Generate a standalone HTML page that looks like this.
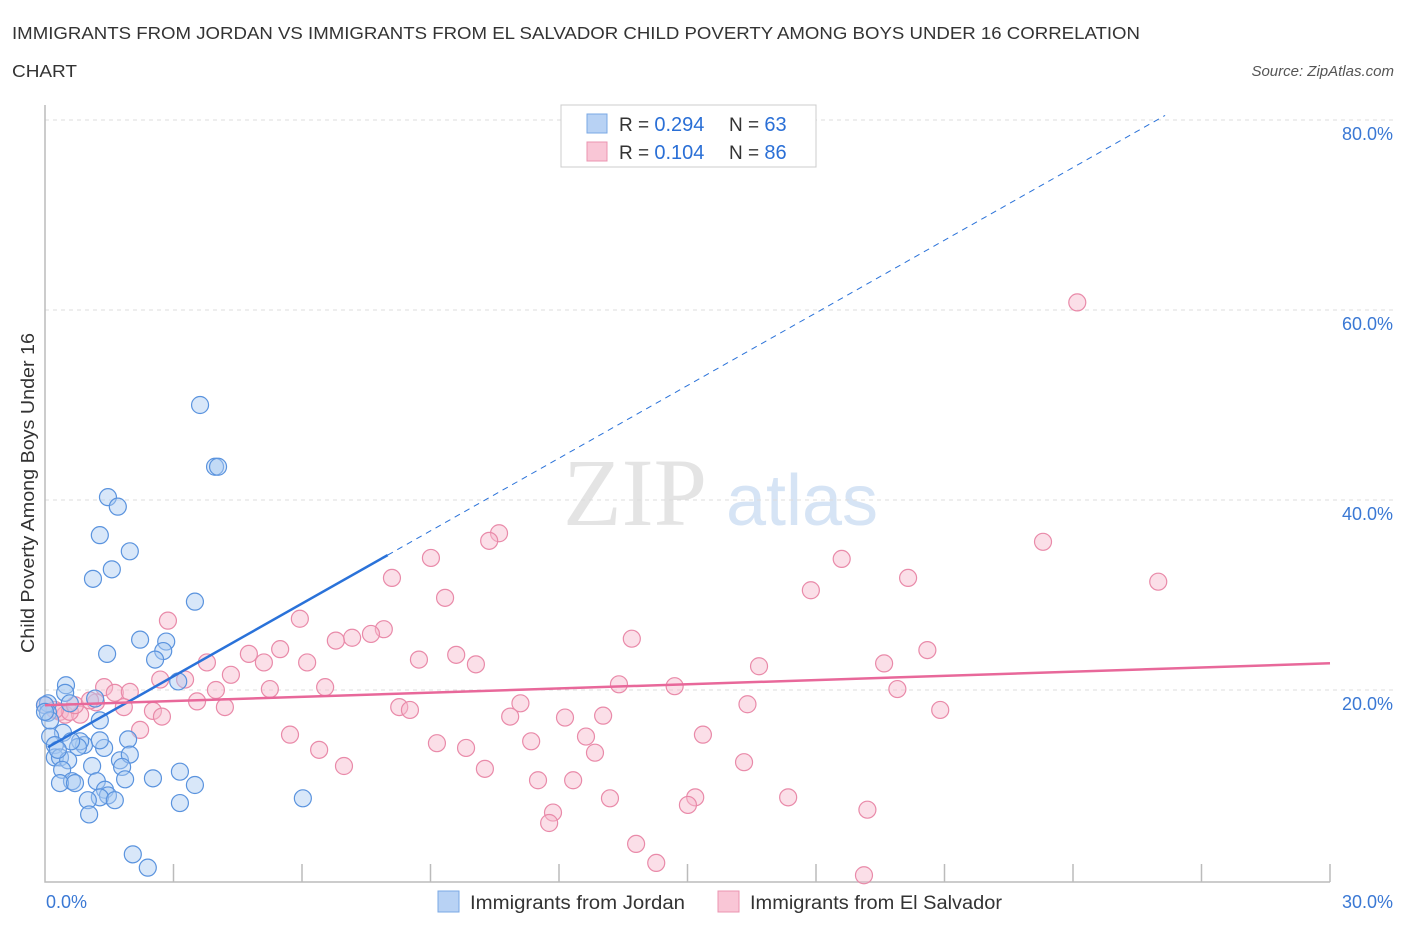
<!DOCTYPE html>
<html><head><meta charset="utf-8">
<style>
body{margin:0;background:#fff;font-family:"Liberation Sans",sans-serif;}
</style></head>
<body>
<svg id="chart" width="1406" height="930" xmlns="http://www.w3.org/2000/svg">
<text x="12" y="39" font-size="17.5" fill="#333" textLength="1128" lengthAdjust="spacingAndGlyphs">IMMIGRANTS FROM JORDAN VS IMMIGRANTS FROM EL SALVADOR CHILD POVERTY AMONG BOYS UNDER 16 CORRELATION</text>
<text x="12" y="77" font-size="17.5" fill="#333" textLength="65" lengthAdjust="spacingAndGlyphs">CHART</text>
<text x="1394" y="76" font-size="15" font-style="italic" fill="#555" text-anchor="end">Source: ZipAtlas.com</text>
<text x="34" y="493" font-size="18" fill="#333" text-anchor="middle" textLength="320" lengthAdjust="spacingAndGlyphs" transform="rotate(-90 34 493)">Child Poverty Among Boys Under 16</text>
<text x="635" y="525" font-size="96" fill="#e4e4e4" font-family="Liberation Serif,serif" text-anchor="middle">ZIP</text>
<text x="802" y="525" font-size="72" fill="#d6e4f5" text-anchor="middle">atlas</text>
<g id="grid"></g>
<g id="axes"></g>
<g id="pts"></g>
<g id="lines"></g>
<g>
<rect x="561" y="105" width="255" height="62" fill="#fff" stroke="#ccc"/>
<rect x="587" y="114" width="20" height="19" fill="#b8d2f4" stroke="#7aa8e4"/>
<text x="619" y="131" font-size="19" fill="#333">R = <tspan fill="#2a6fd6" font-size="20">0.294</tspan></text>
<text x="729" y="131" font-size="19" fill="#333">N = <tspan fill="#2a6fd6" font-size="20">63</tspan></text>
<rect x="587" y="142" width="20" height="19" fill="#f9c6d6" stroke="#eb94b0"/>
<text x="619" y="159" font-size="19" fill="#333">R = <tspan fill="#2a6fd6" font-size="20">0.104</tspan></text>
<text x="729" y="159" font-size="19" fill="#333">N = <tspan fill="#2a6fd6" font-size="20">86</tspan></text>
</g>
<g>
<rect x="438" y="891" width="21" height="21" fill="#b8d2f4" stroke="#7aa8e4"/>
<text x="470" y="909" font-size="19" fill="#333" textLength="215" lengthAdjust="spacingAndGlyphs">Immigrants from Jordan</text>
<rect x="718" y="891" width="21" height="21" fill="#f9c6d6" stroke="#eb94b0"/>
<text x="750" y="909" font-size="19" fill="#333" textLength="252" lengthAdjust="spacingAndGlyphs">Immigrants from El Salvador</text>
</g>
</svg>
<script>
const yTicks=[20,40,60,80];
const xTickLabels=["0.0%","30.0%"];
const jordanX=[3.62,3.97,4.04,1.47,1.70,1.28,1.98,1.56,1.12,3.50,2.22,2.83,2.76,2.57,1.45,3.11,0.49,0.47,1.17,0.07,0,0.58,0.07,1.28,0.42,0.12,1.94,1.38,0.91,0.82,0.77,0.61,0.23,0.23,0.35,0.54,0.40,1.75,1.98,1.80,1.10,3.15,2.52,1.87,1.21,0.63,0.35,0.70,1.40,1.47,1.28,1.00,1.63,3.50,3.15,6.02,1.03,2.05,2.40,0.12,0.30,1.28,0];
const jordanY=[50.0,43.5,43.5,40.3,39.3,36.3,34.6,32.7,31.7,29.3,25.3,25.1,24.1,23.2,23.8,20.9,20.5,19.7,19.1,18.6,18.4,18.6,17.6,16.8,15.5,15.1,14.8,13.9,14.2,14.6,14.0,14.6,14.2,12.9,12.9,12.6,11.6,12.6,13.2,11.9,12.0,11.4,10.7,10.6,10.4,10.4,10.2,10.2,9.5,8.9,8.7,8.4,8.4,10.0,8.1,8.6,6.9,2.7,1.3,16.8,13.7,14.7,17.7];
const salvX=[24.1,10.6,10.37,23.3,9.01,18.6,8.10,20.15,25.99,9.34,17.88,2.87,5.95,7.91,7.61,7.17,6.79,13.7,4.76,5.49,9.60,20.6,3.78,5.11,6.12,8.73,10.06,16.67,19.59,4.34,3.27,2.69,1.38,6.54,3.99,13.4,14.7,19.9,5.25,1.63,1.98,3.55,4.20,1.19,11.1,16.4,8.27,8.52,20.9,1.84,2.52,0.35,0.47,0.82,0.58,2.73,10.86,12.14,13.03,2.22,5.72,15.36,9.15,12.63,6.40,9.83,11.35,12.84,16.32,6.98,10.27,11.51,12.33,13.19,15.18,15.01,17.35,11.86,19.2,11.77,13.8,14.27,19.12,0,0.23,0.70,1.05];
const salvY=[60.8,36.5,35.7,35.6,33.9,33.8,31.8,31.8,31.4,29.7,30.5,27.3,27.5,26.4,25.9,25.5,25.2,25.4,23.8,24.3,23.7,24.2,22.9,22.9,22.9,23.2,22.7,22.5,22.8,21.6,21.1,21.1,20.3,20.3,20.0,20.6,20.4,20.1,20.1,19.7,19.8,18.8,18.2,18.7,18.6,18.5,18.2,17.9,17.9,18.2,17.8,17.7,17.4,17.4,17.7,17.2,17.2,17.1,17.3,15.8,15.3,15.3,14.4,15.1,13.7,13.9,14.6,13.4,12.4,12.0,11.7,10.5,10.5,8.6,8.7,7.9,8.7,7.1,7.4,6.0,3.8,1.8,0.5,18.4,17.9,18.4,18.9];
const trendJordan=[13.8,2.55]; // intercept, slope
const trendSalv=[18.4,0.147];
const xMax=30, yMax=80;
const NS="http://www.w3.org/2000/svg";
const X0=45,X1=1330,Y0=880,Y80=120;
const sx=v=>X0+v/xMax*(X1-X0);
const sy=v=>Y0-v/yMax*(Y0-Y80);
function mk(tag,attrs,parent){const e=document.createElementNS(NS,tag);for(const k in attrs)e.setAttribute(k,attrs[k]);parent.appendChild(e);return e;}
const grid=document.getElementById('grid'),axes=document.getElementById('axes'),pts=document.getElementById('pts'),lines=document.getElementById('lines');
yTicks.forEach(t=>{
  const l=mk('line',{x1:X0,x2:1395,y1:sy(t),y2:sy(t),stroke:'#ddd','stroke-dasharray':'4,4'},grid);
  
  
  const tx=mk('text',{x:1393,y:sy(t)+20,'font-size':18,fill:'#3a78d4','text-anchor':'end'},grid);
  tx.textContent=t.toFixed(1)+'%';
  
  
});
const ax=mk('path',{d:`M${X0} 105 V882 H${X1}`,fill:'none',stroke:'#bbb','stroke-width':1.5},axes);


for(let v=3;v<=30;v+=3){
  const t=mk('line',{x1:sx(v),x2:sx(v),y1:864,y2:882,stroke:'#bbb','stroke-width':1.5},axes);
  
  
}
[[0,'start',46],[30,'end',1393]].forEach((a,i)=>{
  const t=mk('text',{x:a[2],y:908,'font-size':18,fill:'#3a78d4','text-anchor':a[1]},axes);
  t.textContent=xTickLabels[i];
  
  
});
function dots(xs,ys,fill,stroke,name){
  xs.forEach((x,i)=>{
    const c=mk('circle',{cx:sx(x),cy:sy(ys[i]),r:8.5,fill:fill,'fill-opacity':0.45,stroke:stroke,'stroke-width':1.2},pts);
    
    
  });
}
dots(salvX,salvY,'#f7b7cb','#e98aa9','point-el-salvador');
dots(jordanX,jordanY,'#a9c9f1','#5a93de','point-jordan');
const jx0=0.07,jx1=8.0,jx2=26.15;
const lj=mk('line',{x1:sx(jx0),y1:sy(trendJordan[0]+trendJordan[1]*jx0),x2:sx(jx1),y2:sy(trendJordan[0]+trendJordan[1]*jx1),stroke:'#2a72d9','stroke-width':2.5},lines);


const ljd=mk('line',{x1:sx(jx1),y1:sy(trendJordan[0]+trendJordan[1]*jx1),x2:sx(jx2),y2:sy(trendJordan[0]+trendJordan[1]*jx2),stroke:'#2a72d9','stroke-width':1,'stroke-dasharray':'6,5'},lines);


const ls=mk('line',{x1:sx(0),y1:sy(trendSalv[0]),x2:sx(30),y2:sy(trendSalv[0]+trendSalv[1]*30),stroke:'#e8689a','stroke-width':2.5},lines);


</script>
</body></html>
